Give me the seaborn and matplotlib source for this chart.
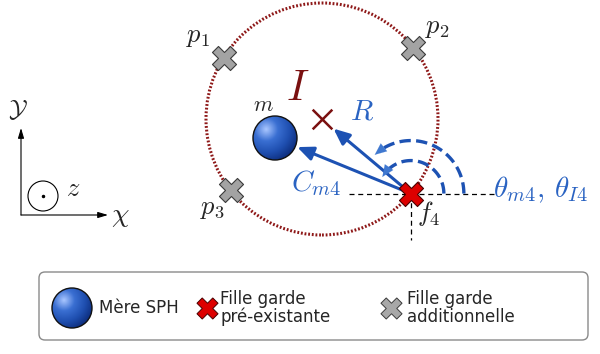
import numpy as np
import pandas as pd
import matplotlib
matplotlib.use('Agg')
import matplotlib.pyplot as plt
import seaborn as sns
from matplotlib.patches import Circle, FancyBboxPatch
from matplotlib.colors import LinearSegmentedColormap

# ---- donnees du schema (coordonnees en pixels, y vers le haut) ----
centre_I = (322, 235)
rayon_R = 116
mere_m = (275, 216)
rayon_m = 22

noms_additionnelles = ['p1', 'p2', 'p3']
angles_additionnelles = [148, 38, 218]      # degres sur le cercle
angle_f4 = 320

labels_part = [r'$p_1$', r'$p_2$', r'$p_3$']
legende_textes = ['Mère SPH', 'Fille garde\npré-existante', 'Fille garde\nadditionnelle']

BLEU = '#1d52b3'
BLEU_TXT = '#2a63c2'
ROUGE_F = '#7a1010'

sns.set_theme(style='white')
plt.rcParams['font.family'] = ['DejaVu Sans']
plt.rcParams['mathtext.fontset'] = 'cm'

fig = plt.figure(figsize=(6, 3.54), dpi=100)
ax = fig.add_axes([0, 0, 1, 1])


def sur_cercle(a):
    t = np.deg2rad(a)
    return centre_I[0] + rayon_R * np.cos(t), centre_I[1] + rayon_R * np.sin(t)


def sphere(ax, cx, cy, r, z=5):
    n = 200
    xs = np.linspace(-1, 1, n)
    X, Y = np.meshgrid(xs, xs)
    d = np.sqrt((X + 0.4) ** 2 + (Y - 0.4) ** 2) / 1.6
    cmap = LinearSegmentedColormap.from_list('sph', ['#a9c6ff', '#3a6fd2', '#1f4fb0', '#0b2a78'])
    im = ax.imshow(np.clip(d, 0, 1), cmap=cmap, extent=[cx - r, cx + r, cy - r, cy + r],
                   origin='lower', aspect='auto', zorder=z, interpolation='bilinear')
    c = Circle((cx, cy), r, transform=ax.transData, facecolor='none')
    im.set_clip_path(c)
    ax.add_patch(Circle((cx, cy), r, facecolor='none', edgecolor='#111111', lw=1.0, zorder=z + 1))


# cercle d'influence
ax.add_patch(Circle(centre_I, rayon_R, facecolor='none', edgecolor='#8e1818',
                    lw=2.2, linestyle=(0, (0.6, 0.6)), zorder=2))

fx, fy = sur_cercle(angle_f4)

# lignes de reference
ax.plot([fx - 62, fx + 85], [fy, fy], color='black', lw=0.9, ls=(0, (4, 3)), zorder=3)
ax.plot([fx, fx], [fy, fy - 46], color='black', lw=0.9, ls=(0, (4, 3)), zorder=3)

# fleches C_m4 et R
vm = np.array([mere_m[0] - fx, mere_m[1] - fy])
lm = np.hypot(*vm)
end_m = np.array([fx, fy]) + vm * (lm - rayon_m - 2) / lm
vI = np.array([centre_I[0] - fx, centre_I[1] - fy])
lI = np.hypot(*vI)
end_I = np.array([fx, fy]) + vI * (lI - 15) / lI
for e in (end_m, end_I):
    ax.annotate('', xy=e, xytext=(fx, fy),
                arrowprops=dict(arrowstyle='-|>,head_length=0.8,head_width=0.35', color=BLEU,
                                lw=2.2, shrinkA=0, shrinkB=0), zorder=4)

# arcs des angles
ang_m = np.degrees(np.arctan2(vm[1], vm[0]))
ang_I = np.degrees(np.arctan2(vI[1], vI[0]))
for rad, fin in ((33, ang_m - 8), (53, ang_I - 7)):
    t = np.deg2rad(np.linspace(0, fin - 6, 60))
    ax.plot(fx + rad * np.cos(t), fy + rad * np.sin(t), color=BLEU, lw=2.4,
            ls=(0, (3.4, 1.6)), zorder=4)
    t0, t1 = np.deg2rad(fin - 8), np.deg2rad(fin)
    ax.annotate('', xy=(fx + rad * np.cos(t1), fy + rad * np.sin(t1)),
                xytext=(fx + rad * np.cos(t0), fy + rad * np.sin(t0)),
                arrowprops=dict(arrowstyle='-|>,head_length=0.7,head_width=0.3', color='#3f78d0',
                                lw=0.1, shrinkA=0, shrinkB=0), zorder=4)

# particules
parts = pd.DataFrame({'nom': noms_additionnelles,
                      'x': [sur_cercle(a)[0] for a in angles_additionnelles],
                      'y': [sur_cercle(a)[1] for a in angles_additionnelles]})
sns.scatterplot(data=parts, x='x', y='y', marker='X', s=300, color='#a3a3a3',
                edgecolor='#3a3a3a', linewidth=0.8, ax=ax, zorder=6, legend=False)
sns.scatterplot(x=[fx], y=[fy], marker='X', s=300, color='#dd0000',
                edgecolor='#4a0000', linewidth=0.8, ax=ax, zorder=7, legend=False)
ax.scatter([centre_I[0]], [centre_I[1]], marker='x', s=200, color=ROUGE_F, lw=1.8, zorder=6)

sphere(ax, mere_m[0], mere_m[1], rayon_m)

# etiquettes
ax.text(263, 249, r'$m$', fontsize=16, ha='center', va='center', zorder=8)
ax.text(298, 266, r'$I$', fontsize=31, ha='center', va='center', color=ROUGE_F, zorder=8)
ax.text(362, 243, r'$R$', fontsize=21, ha='center', va='center', color=BLEU_TXT, zorder=8)
ax.text(316, 171, r'$C_{m4}$', fontsize=21, ha='center', va='center', color=BLEU_TXT, zorder=8)
ax.text(493, 164, r'$\theta_{m4},\,\theta_{I4}$', fontsize=21, ha='left', va='center',
        color=BLEU_TXT, zorder=8)
ax.text(429, 140, r'$f_4$', fontsize=19, ha='center', va='center', zorder=8)
for lab, (lx, ly) in zip(labels_part, [(198, 318), (437, 327), (212, 146)]):
    ax.text(lx, ly, lab, fontsize=19, ha='center', va='center', zorder=8)

# repere
ax.annotate('', xy=(21, 226), xytext=(21, 139),
            arrowprops=dict(arrowstyle='-|>,head_length=0.5,head_width=0.15', color='black',
                            lw=0.8, shrinkA=0, shrinkB=0))
ax.annotate('', xy=(108, 139), xytext=(21, 139),
            arrowprops=dict(arrowstyle='-|>,head_length=0.5,head_width=0.15', color='black',
                            lw=0.8, shrinkA=0, shrinkB=0))
ax.add_patch(Circle((43, 158), 15, facecolor='none', edgecolor='black', lw=0.8))
ax.plot([43], [158], marker='o', ms=1.5, color='black')
ax.text(18, 244, r'$\mathcal{Y}$', fontsize=18, ha='center', va='center')
ax.text(120, 139, r'$\chi$', fontsize=20, ha='center', va='center')
ax.text(73, 165, r'$z$', fontsize=19, ha='center', va='center')

# legende
ax.add_patch(FancyBboxPatch((39, 14), 549, 68, boxstyle='round,pad=0,rounding_size=6',
                            facecolor='white', edgecolor='#8a8a8a', lw=1.0, zorder=1))
sphere(ax, 72, 46, 20)
ax.scatter([207], [46], marker='X', s=230, color='#dd0000', edgecolors='#4a0000', lw=0.7, zorder=6)
ax.scatter([391], [46], marker='X', s=230, color='#a8a8a8', edgecolors='#3a3a3a', lw=0.7, zorder=6)
for tx, txt in zip([99, 220, 407], legende_textes):
    ax.text(tx, 46, txt, fontsize=12, ha='left', va='center', linespacing=0.95, zorder=8)

ax.set_xlim(0, 600)
ax.set_ylim(0, 354)
ax.axis('off')
fig.savefig('out.png', dpi=100)
